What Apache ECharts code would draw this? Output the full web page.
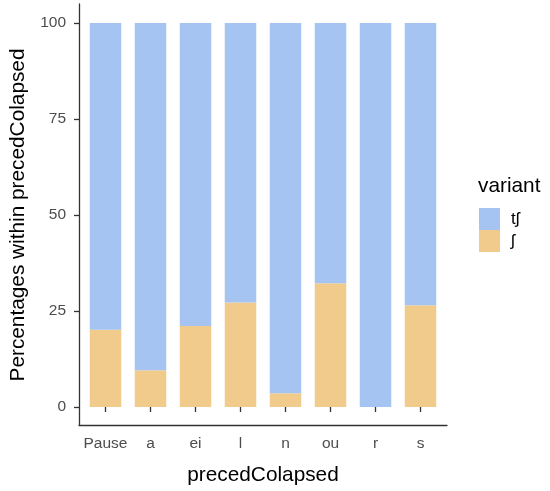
<!DOCTYPE html>
<html>
<head>
<meta charset="utf-8">
<script src="https://cdn.jsdelivr.net/npm/echarts@6/dist/echarts.min.js"></script>
<style>
  html, body { margin: 0; padding: 0; background: #fff; }
  #chart-container { width: 550px; height: 491px; }
</style>
</head>
<body>
<div id="chart-container"></div>
<script>
var categories = ['Pause', 'a', 'ei', 'l', 'n', 'ou', 'r', 's'];
var shValues = [20.1, 9.6, 21.1, 27.2, 3.6, 32.2, 0, 26.5];
var tshValues = [79.9, 90.4, 78.9, 72.8, 96.4, 67.8, 100, 73.5];

var chartDom = document.getElementById('chart-container');
var myChart = echarts.init(chartDom);
var font = 'Liberation Sans';

var option = {
  animation: false,
  textStyle: { fontFamily: font },
  legend: {
    orient: 'vertical',
    left: 479,
    top: 208,
    itemWidth: 21,
    itemHeight: 22,
    itemGap: 0,
    icon: 'rect',
    padding: 0,
    data: ['tʃ', 'ʃ'],
    textStyle: { fontSize: 17, color: '#000', fontFamily: font, padding: [0, 0, 0, 6] }
  },
  graphic: [{
    type: 'text',
    left: 478,
    top: 176,
    style: { text: 'variant', fontSize: 20.8, fill: '#000', fontFamily: font }
  }],
  grid: [
    // frame grid: only the axis lines
    { left: 79, right: 103, top: 4, bottom: 66 },
    // bar grid
    { left: 83, right: 107, top: 23, bottom: 84 }
  ],
  xAxis: [
    {
      type: 'value', gridIndex: 0, min: 0, max: 1,
      axisLine: { show: true, lineStyle: { color: '#333', width: 1.3 } },
      axisTick: { show: false }, axisLabel: { show: false }, splitLine: { show: false }
    },
    {
      type: 'category', gridIndex: 1, data: categories, offset: 18,
      name: 'precedColapsed', nameLocation: 'middle', nameGap: 40,
      nameTextStyle: { fontSize: 20.8, color: '#000', fontFamily: font },
      axisLine: { show: false },
      axisTick: { show: true, alignWithLabel: true, length: 5, lineStyle: { color: '#333', width: 1.3 } },
      axisLabel: { fontSize: 15.5, color: '#4d4d4d', margin: 11, interval: 0, fontFamily: font }
    }
  ],
  yAxis: [
    {
      type: 'value', gridIndex: 0, min: 0, max: 1,
      axisLine: { show: true, lineStyle: { color: '#333', width: 1.3 } },
      axisTick: { show: false }, axisLabel: { show: false }, splitLine: { show: false }
    },
    {
      type: 'value', gridIndex: 1, min: 0, max: 100, interval: 25, offset: 4,
      name: 'Percentages within precedColapsed', nameLocation: 'middle', nameGap: 50,
      nameTextStyle: { fontSize: 20.8, color: '#000', fontFamily: font },
      axisLine: { show: false },
      axisTick: { show: true, length: 5, lineStyle: { color: '#333', width: 1.3 } },
      axisLabel: { fontSize: 15.5, color: '#4d4d4d', margin: 13, fontFamily: font },
      splitLine: { show: false }
    }
  ],
  series: [
    {
      name: 'ʃ', type: 'bar', stack: 'total', xAxisIndex: 1, yAxisIndex: 1,
      barWidth: '70%', data: shValues,
      itemStyle: { color: '#F0CB8C' }
    },
    {
      name: 'tʃ', type: 'bar', stack: 'total', xAxisIndex: 1, yAxisIndex: 1,
      barWidth: '70%', data: tshValues,
      itemStyle: { color: '#A5C4F1' }
    }
  ]
};

myChart.setOption(option);
</script>
</body>
</html>
